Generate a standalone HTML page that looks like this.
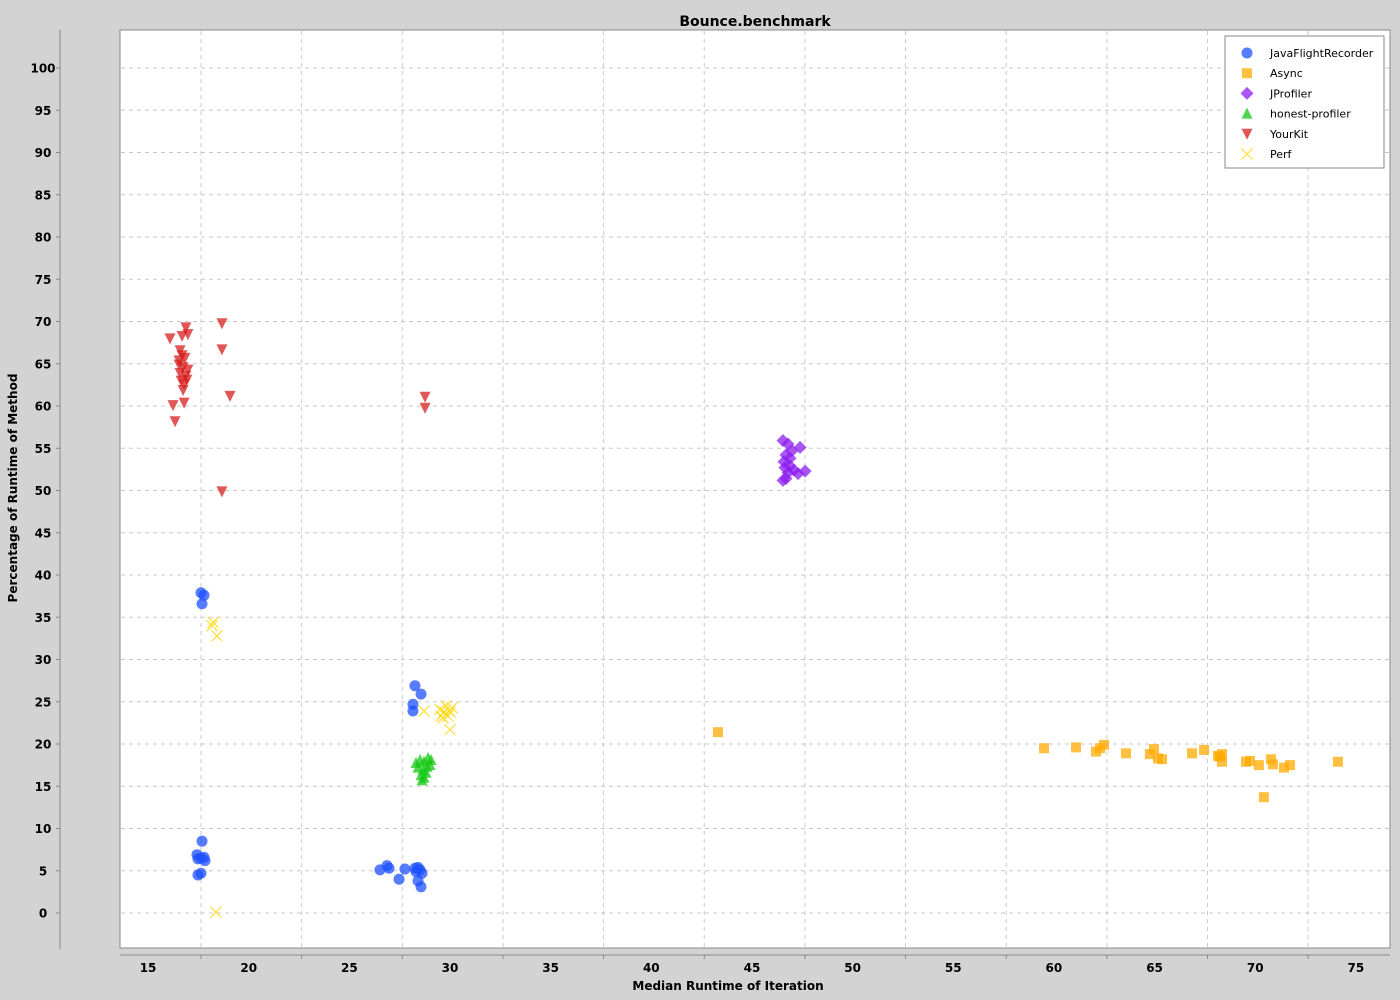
<!DOCTYPE html>
<html><head><meta charset="utf-8"><style>
html,body{margin:0;padding:0;background:#d3d3d3;}
svg{display:block;font-family:"DejaVu Sans","Liberation Sans",sans-serif;}
</style></head><body>
<svg id="chart" width="1400" height="1000" viewBox="0 0 1400 1000">
<rect x="0" y="0" width="1400" height="1000" fill="#d3d3d3"/>
<text x="755" y="26" text-anchor="middle" font-weight="bold" font-size="14">Bounce.benchmark</text>
<rect x="120" y="30" width="1270" height="918" fill="#fff" stroke="#888"/>
<g id="grid"></g>
<g id="axes"></g>
<g id="marks"></g>
<text x="17" y="488" text-anchor="middle" font-weight="bold" font-size="12" transform="rotate(-90 17 488)">Percentage of Runtime of Method</text>
<text x="728" y="990" text-anchor="middle" font-weight="bold" font-size="12">Median Runtime of Iteration</text>
<g id="legend">
<rect x="1225" y="36" width="159" height="132" fill="#fff" stroke="#888"/>
</g>
</svg>
<script>
const xTicks=[15,20,25,30,35,40,45,50,55,60,65,70,75];
const yTicks=[0,5,10,15,20,25,30,35,40,45,50,55,60,65,70,75,80,85,90,95,100];
const xGrid=[17.68,22.68,27.68,32.68,37.68,42.68,47.68,52.68,57.68,62.68,67.68,72.68];
const jfrX=[17.68,17.83,17.73,17.73,17.48,17.53,17.83,17.88,17.68,17.53,17.68,26.57,26.92,27.02,27.52,27.81,28.31,28.46,28.56,28.66,28.46,28.61,28.36,28.31,28.61,28.21,28.21];
const jfrY=[37.9,37.6,36.6,8.5,6.9,6.4,6.6,6.2,6.5,4.5,4.7,5.1,5.6,5.3,4.0,5.2,5.3,5.4,5.1,4.7,3.8,3.1,4.9,26.9,25.9,24.7,23.9];
const asyncX=[43.36,59.56,61.15,62.14,62.34,62.54,63.63,64.82,65.02,65.22,65.42,66.91,67.51,68.2,68.4,68.3,68.4,69.59,69.79,70.23,70.48,70.83,70.93,71.48,71.78,74.16];
const asyncY=[21.4,19.5,19.6,19.1,19.5,19.9,18.9,18.8,19.4,18.3,18.2,18.9,19.3,18.6,18.8,18.5,17.9,17.9,18.0,17.5,13.7,18.2,17.6,17.2,17.5,17.9];
const jprofX=[46.59,46.84,47.04,46.74,47.44,46.64,46.94,46.84,47.14,47.34,47.69,46.74,46.59,46.94,46.69];
const jprofY=[55.9,55.5,54.7,54.2,55.1,53.4,52.9,52.1,52.4,52.0,52.3,51.4,51.2,53.8,52.7];
const honestX=[28.36,28.56,28.76,28.96,29.11,28.46,28.71,28.91,29.06,28.61,28.76,28.86,28.66];
const honestY=[17.75,18.1,17.9,18.35,18.1,17.2,16.9,17.3,17.5,16.3,16.0,16.6,15.7];
const ykX=[16.14,16.29,16.39,16.64,16.93,17.03,16.74,16.88,16.59,16.79,17.03,16.64,16.93,16.69,16.84,16.98,16.79,16.84,18.72,18.72,19.12,18.72,28.81,28.81,16.59,16.74];
const ykY=[68.0,60.1,58.2,66.6,69.3,68.5,68.3,65.7,65.4,64.6,64.3,63.9,63.6,63.0,62.6,63.1,61.9,60.4,69.8,66.7,61.2,49.9,61.1,59.8,64.9,66.0];
const perfX=[18.28,18.23,18.47,18.42,28.76,29.55,29.75,29.95,30.15,29.85,29.70,30.05,30.05,29.60];
const perfY=[34.4,34.0,32.8,0.1,23.9,24.1,23.8,23.3,24.3,24.5,23.1,23.8,21.7,23.3];

const NS="http://www.w3.org/2000/svg";
function xs(v){return 449+(v-30)*20.13;}
function ys(v){return 913-v*8.45;}
function mk(tag,attrs,parent){const e=document.createElementNS(NS,tag);for(const k in attrs)e.setAttribute(k,attrs[k]);parent.appendChild(e);return e;}
const grid=document.getElementById('grid'),axes=document.getElementById('axes'),marks=document.getElementById('marks'),legend=document.getElementById('legend');
xGrid.forEach(v=>{
  const l=mk('line',{x1:xs(v),x2:xs(v),y1:31,y2:947,stroke:'#c8c8c8','stroke-dasharray':'4 4'},grid);
  
  
  const t=mk('line',{x1:xs(v),x2:xs(v),y1:955,y2:959,stroke:'#888'},axes);
  
  
});
yTicks.forEach(v=>{
  const l=mk('line',{x1:121,x2:1389,y1:ys(v),y2:ys(v),stroke:'#c8c8c8','stroke-dasharray':'4 4'},grid);
  
  
  const t=mk('line',{x1:56,x2:60,y1:ys(v),y2:ys(v),stroke:'#888'},axes);
  
  
  const tx=mk('text',{x:43,y:ys(v)+4.5,'text-anchor':'middle','font-weight':'bold','font-size':'12'},axes);
  tx.textContent=v;
  
  
});
mk('line',{x1:60,x2:60,y1:30,y2:949,stroke:'#888'},axes);
mk('line',{x1:120,x2:1390,y1:955,y2:955,stroke:'#888'},axes);
xTicks.forEach(v=>{
  const tx=mk('text',{x:xs(v)+1,y:972,'text-anchor':'middle','font-weight':'bold','font-size':'12'},axes);
  tx.textContent=v;
  
  
});
function sym(type,cx,cy,parent){
  let e;
  if(type==='circle')e=mk('circle',{cx:cx,cy:cy,r:5.5,fill:'rgba(30,80,255,0.75)'},parent);
  else if(type==='square')e=mk('rect',{x:cx-5,y:cy-5,width:10,height:10,fill:'rgba(255,170,0,0.75)'},parent);
  else if(type==='diamond')e=mk('polygon',{points:`${cx},${cy-6.5} ${cx+6.5},${cy} ${cx},${cy+6.5} ${cx-6.5},${cy}`,fill:'rgba(140,30,240,0.75)'},parent);
  else if(type==='up')e=mk('polygon',{points:`${cx},${cy-6} ${cx+5.5},${cy+5} ${cx-5.5},${cy+5}`,fill:'rgba(20,200,20,0.75)'},parent);
  else if(type==='down')e=mk('polygon',{points:`${cx-5.5},${cy-5} ${cx+5.5},${cy-5} ${cx},${cy+6}`,fill:'rgba(215,30,30,0.75)'},parent);
  else e=mk('path',{d:`M${cx-5.5},${cy-5.5}L${cx+5.5},${cy+5.5}M${cx+5.5},${cy-5.5}L${cx-5.5},${cy+5.5}`,stroke:'rgba(255,215,0,0.8)','stroke-width':1.2,fill:'none'},parent);
  return e;
}
const series=[['JavaFlightRecorder','circle',jfrX,jfrY],['Async','square',asyncX,asyncY],['JProfiler','diamond',jprofX,jprofY],['honest-profiler','up',honestX,honestY],['YourKit','down',ykX,ykY],['Perf','x',perfX,perfY]];
series.forEach((s,i)=>{
  const g=mk('g',{},marks);
  
  
  s[2].forEach((xv,j)=>{
    const e=sym(s[1],xs(xv),ys(s[3][j]),g);
    
    
  });
  const ly=53+i*20.2;
  const le=mk('g',{},legend);
  
  
  sym(s[1],1247,ly,le);
  const t=mk('text',{x:1270,y:ly+4,'font-size':'11'},le);
  t.textContent=s[0];
});
</script>
</body></html>
